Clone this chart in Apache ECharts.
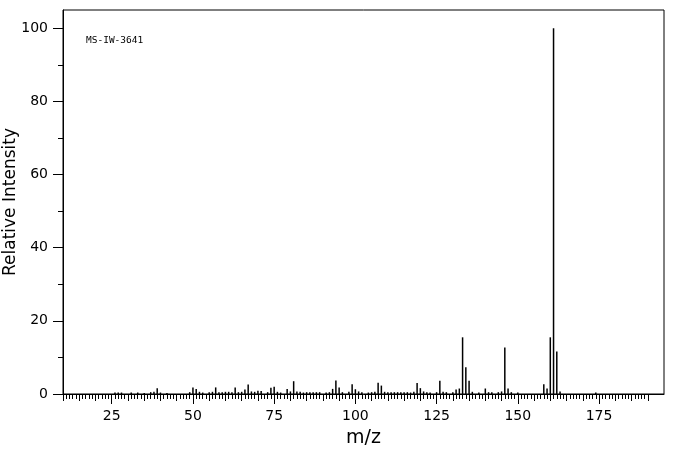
<!DOCTYPE html>
<html>
<head>
<meta charset="utf-8">
<script src="https://cdn.jsdelivr.net/npm/echarts@6/dist/echarts.min.js"></script>
<style>html,body{margin:0;padding:0;background:#fff;}#c{width:676px;height:455px;}</style>
</head>
<body>
<div id="c"></div>
<script>
// m/z values and relative intensities
const mz = [26,27,28,31,33,35,37,38,39,40,42,49,50,51,52,53,55,56,57,58,59,60,61,62,63,64,65,66,67,68,69,70,71,73,74,75,76,77,79,80,81,82,83,84,85,86,87,88,89,91,92,93,94,95,96,98,99,100,101,102,104,105,106,107,108,109,110,111,112,113,114,115,116,117,118,119,120,121,122,123,125,126,127,128,130,131,132,133,134,135,136,138,140,141,142,144,145,146,147,148,150,158,159,160,161,162,163,174];
const intensity = [0.4,0.4,0.4,0.4,0.4,0.3,0.5,0.6,1.6,0.4,0.3,0.5,1.8,1.4,0.6,0.4,0.5,0.6,1.8,0.5,0.5,0.6,0.6,0.5,1.8,0.5,0.6,1.2,2.6,0.7,0.6,0.9,0.8,0.5,1.7,2.0,0.6,0.4,1.4,0.7,3.5,0.7,0.6,0.4,0.5,0.5,0.5,0.5,0.5,0.4,0.5,1.4,3.7,1.8,0.5,0.6,2.7,1.3,0.7,0.5,0.4,0.5,0.6,3.1,2.3,0.6,0.5,0.5,0.5,0.5,0.5,0.5,0.5,0.4,0.6,3.0,1.6,0.7,0.5,0.4,0.5,3.6,0.6,0.5,0.5,1.2,1.5,15.5,7.3,3.6,0.6,0.4,1.5,0.5,0.5,0.5,0.7,12.7,1.5,0.5,0.4,2.7,1.5,15.5,100,11.6,0.7,0.4];
const xMajorTicks = [25,50,75,100,125,150,175];
const yMajorTicks = [0,20,40,60,80,100];
const yMinorTicks = [10,30,50,70,90];
const xMin = 10, xMax = 195, yMin = 0, yMax = 105;
const xMediumTicks = []; for (let v = 10; v <= 190; v += 5) xMediumTicks.push(v);
const xMinorTicks = []; for (let v = 10; v <= 190; v += 1) xMinorTicks.push(v);
const specId = 'MS-IW-3641';

const FONT = 'DejaVu Sans';
const chart = echarts.init(document.getElementById('c'), null, {renderer: 'canvas'});
const hiddenAxisParts = {axisLine: {show: false}, axisLabel: {show: false}, splitLine: {show: false}};
chart.setOption({
  animation: false,
  backgroundColor: '#fff',
  grid: {left: 63, right: 12, top: 10, bottom: 61, containLabel: false, outerBoundsMode: 'none',
         show: true, borderColor: '#000', borderWidth: 1, backgroundColor: 'transparent'},
  xAxis: [
    {type: 'value', min: xMin, max: xMax, position: 'bottom',
     name: 'm/z', nameLocation: 'middle', nameGap: 35, nameMoveOverlap: false,
     nameTextStyle: {fontFamily: FONT, fontSize: 19, color: '#000'},
     axisLine: {show: true, onZero: false, lineStyle: {color: '#000', width: 1}},
     axisTick: {show: true, length: 10, customValues: xMajorTicks, lineStyle: {color: '#000', width: 1}},
     axisLabel: {show: true, customValues: xMajorTicks, margin: 15, fontFamily: FONT, fontSize: 14, color: '#000'},
     splitLine: {show: false}},
    Object.assign({type: 'value', min: xMin, max: xMax, position: 'bottom',
     axisTick: {show: true, length: 7, customValues: xMediumTicks, lineStyle: {color: '#000', width: 1}}}, hiddenAxisParts),
    Object.assign({type: 'value', min: xMin, max: xMax, position: 'bottom',
     axisTick: {show: true, length: 5, customValues: xMinorTicks, lineStyle: {color: '#000', width: 1}}}, hiddenAxisParts)
  ],
  yAxis: [
    {type: 'value', min: yMin, max: yMax, position: 'left',
     name: 'Relative Intensity', nameLocation: 'middle', nameGap: 44, nameRotate: 90, nameMoveOverlap: false,
     nameTextStyle: {fontFamily: FONT, fontSize: 17, color: '#000'},
     axisLine: {show: true, onZero: false, lineStyle: {color: '#000', width: 1}},
     axisTick: {show: true, length: 10, customValues: yMajorTicks, lineStyle: {color: '#000', width: 1}},
     axisLabel: {show: true, customValues: yMajorTicks, margin: 15, fontFamily: FONT, fontSize: 14, color: '#000'},
     splitLine: {show: false}},
    Object.assign({type: 'value', min: yMin, max: yMax, position: 'left',
     axisTick: {show: true, length: 5, customValues: yMinorTicks, lineStyle: {color: '#000', width: 1}}}, hiddenAxisParts)
  ],
  graphic: [
    {type: 'text', left: 86, top: 36, style: {text: specId, fontFamily: 'DejaVu Sans Mono', fontSize: 9.5, fill: '#000'}}
  ],
  series: [{
    type: 'custom',
    xAxisIndex: 0, yAxisIndex: 0,
    data: mz.map((m, i) => [m, intensity[i]]),
    renderItem: function (params, api) {
      const top = api.coord([api.value(0), api.value(1)]);
      const base = api.coord([api.value(0), 0]);
      return {type: 'line', shape: {x1: top[0], y1: base[1], x2: top[0], y2: top[1]},
              style: {stroke: '#000', lineWidth: 1.5}};
    }
  }]
});
</script>
</body>
</html>
